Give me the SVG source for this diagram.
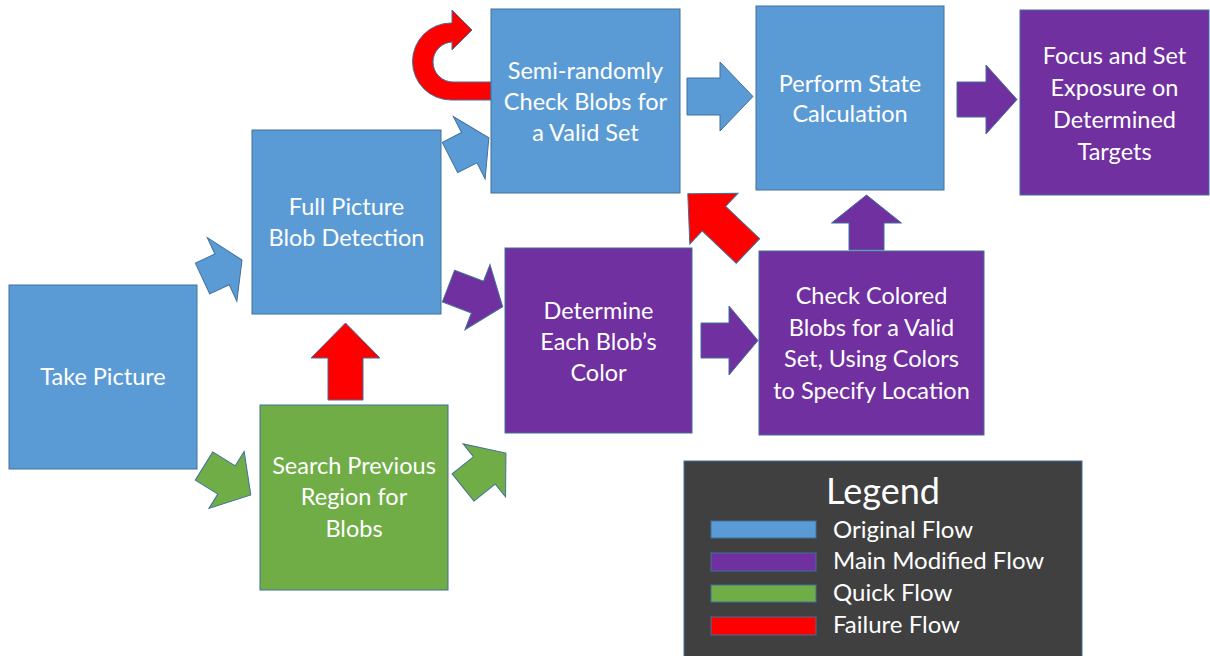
<svg xmlns="http://www.w3.org/2000/svg" width="1210" height="656" viewBox="0 0 1210 656">
<style>
.box{stroke:#41719C;stroke-width:1}
.blue{fill:#5B9BD5}
.purple{fill:#7030A0}
.green{fill:#70AD47}
.red{fill:#FF0000}
.arr{stroke:#41719C;stroke-width:1}
text{font-family:Lato,"Liberation Sans",sans-serif;fill:#FFFFFF;text-anchor:middle;font-size:23.5px}
.leg{text-anchor:start;font-size:24px}
</style>
<rect width="1210" height="656" fill="#FFFFFF"/>
<g id="connectors">
<polygon class="arr blue" transform="translate(202.5,278.5) rotate(-25)" points="0,-17 21.6,-17 21.6,-35 43.6,0 21.6,35 21.6,17 0,17"/>
<polygon class="arr blue" transform="translate(450,157.5) rotate(-27)" points="0,-17 21.6,-17 21.6,-35 43.6,0 21.6,35 21.6,17 0,17"/>
<polygon class="arr purple" transform="translate(448.5,286) rotate(21)" points="0,-17 31,-17 31,-35 58,0 31,35 31,17 0,17"/>
<polygon class="arr blue" transform="translate(687,96.5)" points="0,-18.5 33,-18.5 33,-34.5 66,0 33,34.5 33,18.5 0,18.5"/>
<polygon class="arr purple" transform="translate(957,99.5)" points="0,-17.5 29,-17.5 29,-34.5 60,0 29,34.5 29,17.5 0,17.5"/>
<polygon class="arr purple" transform="translate(701,340.5)" points="0,-17.5 28,-17.5 28,-34.5 57,0 28,34.5 28,17.5 0,17.5"/>
<polygon class="arr purple" transform="translate(866.5,250) rotate(-90)" points="0,-17.5 27,-17.5 27,-35 55,0 27,35 27,17.5 0,17.5"/>
<polygon class="arr red" transform="translate(748,251) rotate(-136.5)" points="0,-17 47,-17 47,-35 83,0 47,35 47,17 0,17"/>
<polygon class="arr red" transform="translate(345.5,400) rotate(-90)" points="0,-17.5 42,-17.5 42,-34.5 77,0 42,34.5 42,17.5 0,17.5"/>
<polygon class="arr green" transform="translate(204,466) rotate(31.7)" points="0,-16.6 26.5,-16.6 26.5,-33.5 55,0 26.5,33.5 26.5,16.6 0,16.6"/>
<polygon class="arr green" transform="translate(463,487.5) rotate(-38.7)" points="0,-17.5 27.3,-17.5 27.3,-34 55,0 27.3,34 27.3,17.5 0,17.5"/>
<path class="arr red" d="M 491 82 L 453 82 A 20 20 0 0 1 453 42 L 452 42 L 452 50 L 472 30 L 452 10 L 452 23 L 451 23 A 38.5 38.5 0 0 0 451 100 L 491 100 Z"/>
</g>
<g id="take-picture">
<rect class="box blue" x="9" y="285" width="188" height="184"/>
<text x="103" y="385">Take Picture</text>
</g>
<g id="full-picture">
<rect class="box blue" x="252" y="130" width="189" height="184"/>
<text x="346.5" y="215">Full Picture</text>
<text x="346.5" y="246">Blob Detection</text>
</g>
<g id="semi-randomly">
<rect class="box blue" x="491" y="9" width="189" height="184"/>
<text x="585.5" y="79">Semi-randomly</text>
<text x="585.5" y="110">Check Blobs for</text>
<text x="585.5" y="141">a Valid Set</text>
</g>
<g id="perform-state">
<rect class="box blue" x="756" y="6" width="188" height="184"/>
<text x="850" y="92">Perform State</text>
<text x="850" y="122">Calculation</text>
</g>
<g id="focus">
<rect class="box purple" x="1020" y="10" width="189" height="185"/>
<text x="1114.5" y="64">Focus and Set</text>
<text x="1114.5" y="96">Exposure on</text>
<text x="1114.5" y="128">Determined</text>
<text x="1114.5" y="160">Targets</text>
</g>
<g id="determine">
<rect class="box purple" x="505" y="248" width="187" height="185"/>
<text x="598.5" y="319">Determine</text>
<text x="598.5" y="350">Each Blob’s</text>
<text x="598.5" y="381">Color</text>
</g>
<g id="check-colored">
<rect class="box purple" x="759" y="251" width="225" height="184"/>
<text x="871.5" y="304">Check Colored</text>
<text x="871.5" y="335.5">Blobs for a Valid</text>
<text x="871.5" y="367">Set, Using Colors</text>
<text x="871.5" y="398.5">to Specify Location</text>
</g>
<g id="search-previous">
<rect class="box green" x="260" y="405" width="188" height="185"/>
<text x="354" y="474">Search Previous</text>
<text x="354" y="505">Region for</text>
<text x="354" y="537">Blobs</text>
</g>
<g id="legend">
<rect x="684" y="461" width="398" height="200" fill="#404040" stroke="#41719C" stroke-width="1"/>
<text x="883" y="504" style="font-size:36px">Legend</text>
<rect class="box blue" x="711" y="521" width="105" height="17"/>
<rect class="box purple" x="711" y="553" width="105" height="18"/>
<rect class="box green" x="711" y="585" width="105" height="17"/>
<rect class="box red" x="711" y="617" width="105" height="18"/>
<text class="leg" x="833" y="538">Original Flow</text>
<text class="leg" x="833" y="569">Main Modified Flow</text>
<text class="leg" x="833" y="601">Quick Flow</text>
<text class="leg" x="833" y="633">Failure Flow</text>
</g>
</svg>
